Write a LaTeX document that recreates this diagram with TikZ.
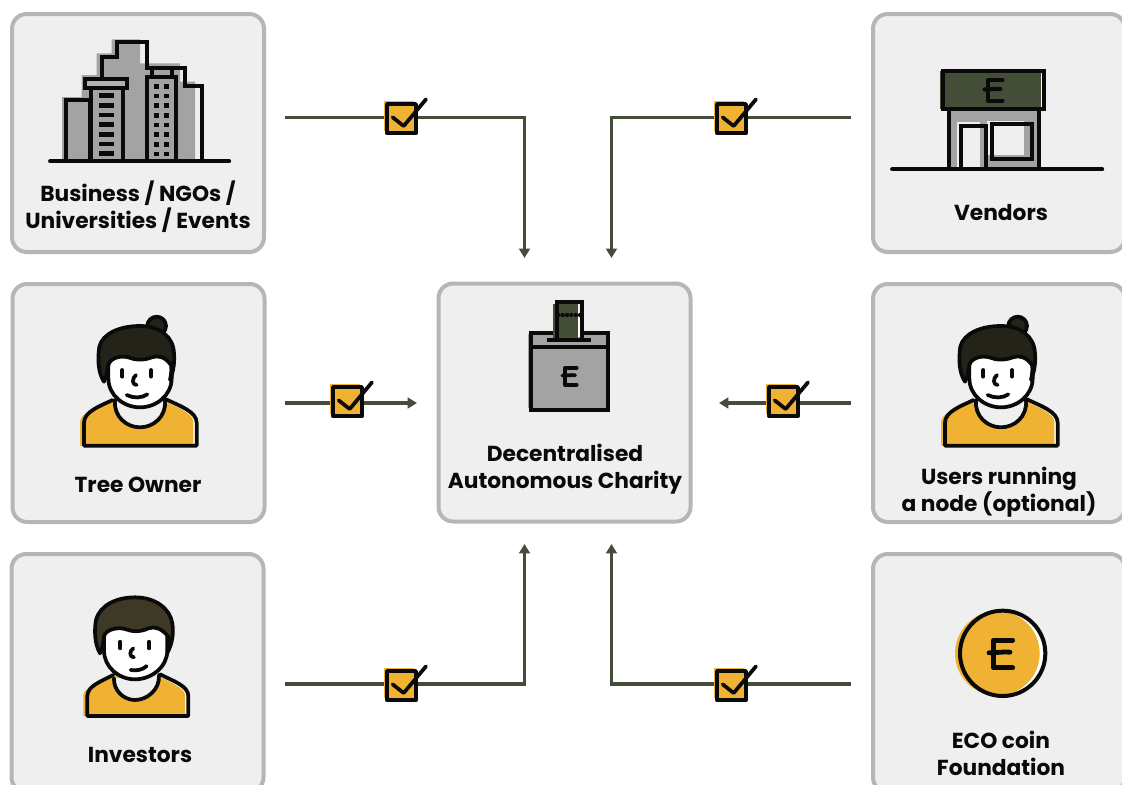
\documentclass[tikz,border=0pt]{standalone}
\usepackage{fontspec}
\setmainfont{Poppins}
\usetikzlibrary{arrows.meta}
\definecolor{boxfill}{HTML}{EFEFEF}
\definecolor{boxline}{HTML}{B6B6B6}
\definecolor{linegreen}{HTML}{434D38}
\definecolor{amber}{HTML}{F0B232}
\definecolor{midgray}{HTML}{A3A3A3}
\definecolor{hairA}{HTML}{24231A}
\definecolor{hairB}{HTML}{3E3826}
\definecolor{inkb}{HTML}{0A0A0A}
\tikzset{
  x=0.75pt,y=-0.75pt,
  panel/.style={draw=boxline,fill=boxfill,line width=3pt,rounded corners=11pt,inner sep=0pt,minimum width=189pt,minimum height=178.5pt},
  caption/.style={font=\fontsize{16.3pt}{20.2pt}\selectfont\bfseries,text=inkb,align=center,inner sep=0pt},
  flow/.style={draw=linegreen,line width=2.3pt,-{Triangle[length=7pt,width=8pt]}},
  ink/.style={draw=inkb,line width=2.8pt},
  zoomed/.style={x=0.25pt,y=-0.25pt},
  pics/tickbox/.style={code={
    \begin{scope}[zoomed,line join=round,line cap=round]
      \fill[amber] (-8,-10) rectangle (80,80);
      \draw[inkb,line width=2.8pt] (0,0) rectangle (87,88);
      \draw[inkb,line width=2.8pt] (17,40) -- (50,66) -- (117,-14);
    \end{scope}}},
  pics/ecoglyph/.style={code={
    \begin{scope}[zoomed,scale=#1,line cap=round,line join=round]
      \draw[inkb,line width={(1.5+2.1*#1)*1pt}] (38,-40) -- (-20,-40) -- (-20,43) -- (38,43);
      \draw[inkb,line width={(1.5+2.1*#1)*1pt}] (-33,-2) .. controls (-10,-2) and (10,-6) .. (30,-4);
    \end{scope}}},
  pics/personA/.style={code={
    \begin{scope}[zoomed,line join=round,line cap=round]
      \fill[white] (72,437) -- (72,365) .. controls (72,340) and (120,320) .. (165,300) -- (315,300) .. controls (360,320) and (410,340) .. (410,365) -- (410,437) -- cycle;
      \fill[amber] (60,437) -- (60,365) .. controls (62,340) and (110,320) .. (155,300) -- (305,300) .. controls (350,320) and (400,340) .. (400,365) -- (400,437) -- cycle;
      \draw[ink,fill=boxfill] (165,300) .. controls (160,350) and (200,382) .. (240,382) .. controls (280,382) and (320,350) .. (315,300);
      \draw[ink] (158,300) .. controls (120,318) and (72,335) .. (72,368) -- (72,437) -- (410,437) -- (410,368) .. controls (410,335) and (360,318) .. (318,298);
      \draw[ink,fill=hairA] (290,78) circle (28);
      \draw[ink,fill=white] (145,150) -- (145,235) .. controls (145,285) and (190,322) .. (240,322) .. controls (290,322) and (335,285) .. (335,235) -- (335,150) -- cycle;
      \draw[ink,fill=hairA] (132,245) .. controls (115,220) and (112,180) .. (118,140) .. controls (128,100) and (180,78) .. (240,78) .. controls (300,78) and (340,110) .. (342,160) .. controls (344,190) and (340,215) .. (330,240) .. controls (335,215) and (335,205) .. (333,195) .. controls (315,170) and (295,165) .. (275,172) .. controls (250,182) and (225,180) .. (205,172) .. controls (180,165) and (150,175) .. (145,195) .. controls (142,210) and (140,230) .. (132,245) -- cycle;
      \draw[ink] (187,210) -- (187,230) (273,210) -- (273,230);
      \draw[ink] (228,225) .. controls (215,235) and (216,255) .. (230,255);
      \draw[ink] (200,285) .. controls (220,295) and (245,295) .. (262,283);
    \end{scope}}},
  pics/personB/.style={code={
    \begin{scope}[zoomed,line join=round,line cap=round]
      \fill[white] (82,408) -- (82,345) .. controls (85,325) and (125,305) .. (162,285) -- (297,285) .. controls (340,305) and (385,325) .. (385,345) -- (385,408) -- cycle;
      \fill[amber] (70,408) -- (70,345) .. controls (72,325) and (115,305) .. (152,285) -- (287,285) .. controls (330,305) and (375,325) .. (375,345) -- (375,408) -- cycle;
      \draw[ink,fill=boxfill] (162,295) .. controls (160,330) and (190,360) .. (225,360) .. controls (260,360) and (300,330) .. (297,285);
      \draw[ink] (160,285) .. controls (125,303) and (82,318) .. (82,348) -- (82,408) -- (385,408) -- (385,348) .. controls (385,318) and (340,303) .. (300,283);
      \draw[ink,fill=white] (132,125) -- (132,212) .. controls (132,260) and (175,298) .. (225,298) .. controls (275,298) and (322,260) .. (322,212) -- (322,125) -- cycle;
      \draw[ink,fill=hairB] (120,220) .. controls (103,190) and (103,150) .. (108,120) .. controls (120,75) and (170,52) .. (225,52) .. controls (285,52) and (330,85) .. (337,130) .. controls (342,165) and (335,195) .. (322,218) .. controls (326,195) and (326,180) .. (325,170) .. controls (305,145) and (285,138) .. (265,145) .. controls (240,157) and (215,155) .. (195,147) .. controls (170,140) and (135,150) .. (132,170) .. controls (130,190) and (128,205) .. (120,220) -- cycle;
      \draw[ink] (181,185) -- (181,205) (268,185) -- (268,205);
      \draw[ink] (220,205) .. controls (207,213) and (208,232) .. (222,232);
      \draw[ink] (212,270) .. controls (228,273) and (248,270) .. (260,258);
    \end{scope}}}
}
\begin{document}
\begin{tikzpicture}
\useasboundingbox (0,0) rectangle (1122,785);
\fill[white] (0,0) rectangle (1122,785);
\clip (0,0) rectangle (1122,785);

% panels
\node[panel] (biz) at (138,133) {};
\node[panel] (vend) at (999,133) {};
\node[panel] (tree) at (138.5,403) {};
\node[panel] (dac) at (564.5,402.5) {};
\node[panel] (users) at (999,403) {};
\node[panel] (inv) at (137.5,673) {};
\node[panel] (eco) at (999,673) {};

% captions
\node[caption] (lbiz) at (138,206.5) {Business / NGOs /\\Universities / Events};
\node[caption] (lvend) at (1001,213) {Vendors};
\node[caption] (ltree) at (138,485) {Tree Owner};
\node[caption] (ldac) at (565,469) {Decentralised\\Autonomous Charity};
\node[caption] (lusers) at (999,492) {Users running\\a node (optional)};
\node[caption] (linv) at (140,755) {Investors};
\node[caption] (leco) at (1001,753) {ECO coin\\Foundation};

% connector ends
\coordinate (s1) at (285,117.5); \coordinate (e1) at (524.5,258);
\coordinate (s2) at (851,117.5); \coordinate (e2) at (611.5,258);
\coordinate (s3) at (285,403); \coordinate (e3) at (417,403);
\coordinate (s4) at (851,403); \coordinate (e4) at (719,403);
\coordinate (s5) at (285,684); \coordinate (e5) at (524.5,544);
\coordinate (s6) at (851,684); \coordinate (e6) at (611.5,544);
\draw[flow] (s1) -| (e1);
\draw[flow] (s2) -| (e2);
\draw[flow] (s3) -- (e3);
\draw[flow] (s4) -- (e4);
\draw[flow] (s5) -| (e5);
\draw[flow] (s6) -| (e6);

% tick boxes
\pic at (387,104) {tickbox};
\pic at (717,104) {tickbox};
\pic at (333,387) {tickbox};
\pic at (769,387) {tickbox};
\pic at (387,671) {tickbox};
\pic at (717,671) {tickbox};

% buildings
\begin{scope}[shift={(0,0)},zoomed,line join=miter]
  \fill[midgray] (245,480) -- (245,225) -- (290,225) -- (290,160) -- (335,160) -- (335,118) -- (420,118) -- (420,190) -- (540,190) -- (540,245) -- (585,245) -- (585,480) -- cycle;
  \fill[midgray] (185,480) -- (185,290) -- (260,290) -- (260,480) -- cycle;
  \draw[ink] (305,235) -- (305,170) -- (350,170) -- (350,125) -- (442,125) -- (442,205) -- (555,205) -- (555,258) -- (605,258) -- (605,484);
  \draw[ink] (455,205) -- (455,232) (515,205) -- (515,232);
  \draw[ink] (197,484) -- (197,300) -- (270,300) -- (270,484);
  \draw[ink,fill=midgray] (272,265) rectangle (368,484);
  \draw[ink,fill=midgray!85!white] (255,237) rectangle (382,265);
  \draw[ink,fill=midgray] (440,230) rectangle (527,484);
  \foreach \yy in {280,309,338,367,396,425,454} \fill[inkb] (298,\yy) rectangle (343,\yy+14);
  \foreach \yy in {252,281,310,339,368,397,426,455} {
    \fill[inkb] (462,\yy) rectangle (478,\yy+14);
    \fill[inkb] (492,\yy) rectangle (508,\yy+14);
  }
  \draw[ink,line cap=round] (150,484) -- (688,484);
\end{scope}

% shop
\begin{scope}[shift={(870,0)},zoomed]
  \fill[midgray] (240,326) rectangle (500,500);
  \fill[boxfill] (262,365) rectangle (330,500);
  \fill[boxfill] (350,362) rectangle (462,465);
  \fill[linegreen] (210,214) rectangle (512,326);
  \fill[white] (512,218) rectangle (520,322);
  \draw[ink] (220,214) rectangle (522,326);
  \draw[ink] (236,326) -- (236,508) (507,326) -- (507,508);
  \draw[ink] (274,504) -- (274,378) -- (347,378) -- (347,504);
  \draw[ink] (367,372) rectangle (487,477);
  \draw[ink,line cap=round] (66,508) -- (697,508);
\end{scope}
\pic at (993,90) {ecoglyph=0.75};

% ballot box
\begin{scope}[shift={(430,280)},zoomed]
  \fill[midgray] (295,162) rectangle (527,385);
  \draw[ink] (302,160) rectangle (534,391);
  \draw[ink] (302,200) -- (534,200);
  \fill[linegreen] (368,72) rectangle (445,178);
  \fill[white] (445,112) rectangle (450,172);
  \draw[ink] (380,178) -- (380,65) -- (457,65) -- (457,178);
  \foreach \xx in {385,398,411,424,437,450} \fill[inkb] (\xx,105) circle (6.5);
  \draw[ink] (350,180) -- (483,180);
\end{scope}
\pic at (569,376) {ecoglyph=0.61};

% people
\pic at (60,300) {personA};
\pic at (921,300) {personA};
\pic at (60,580) {personB};

% coin
\begin{scope}[shift={(940,600)},zoomed]
  \fill[white] (188,160) circle (128);
  \fill[amber] (172,160) circle (127);
  \draw[inkb,line width=3pt] (188,160) circle (128);
\end{scope}
\pic at (1000,653.5) {ecoglyph=1};
\end{tikzpicture}
\end{document}
